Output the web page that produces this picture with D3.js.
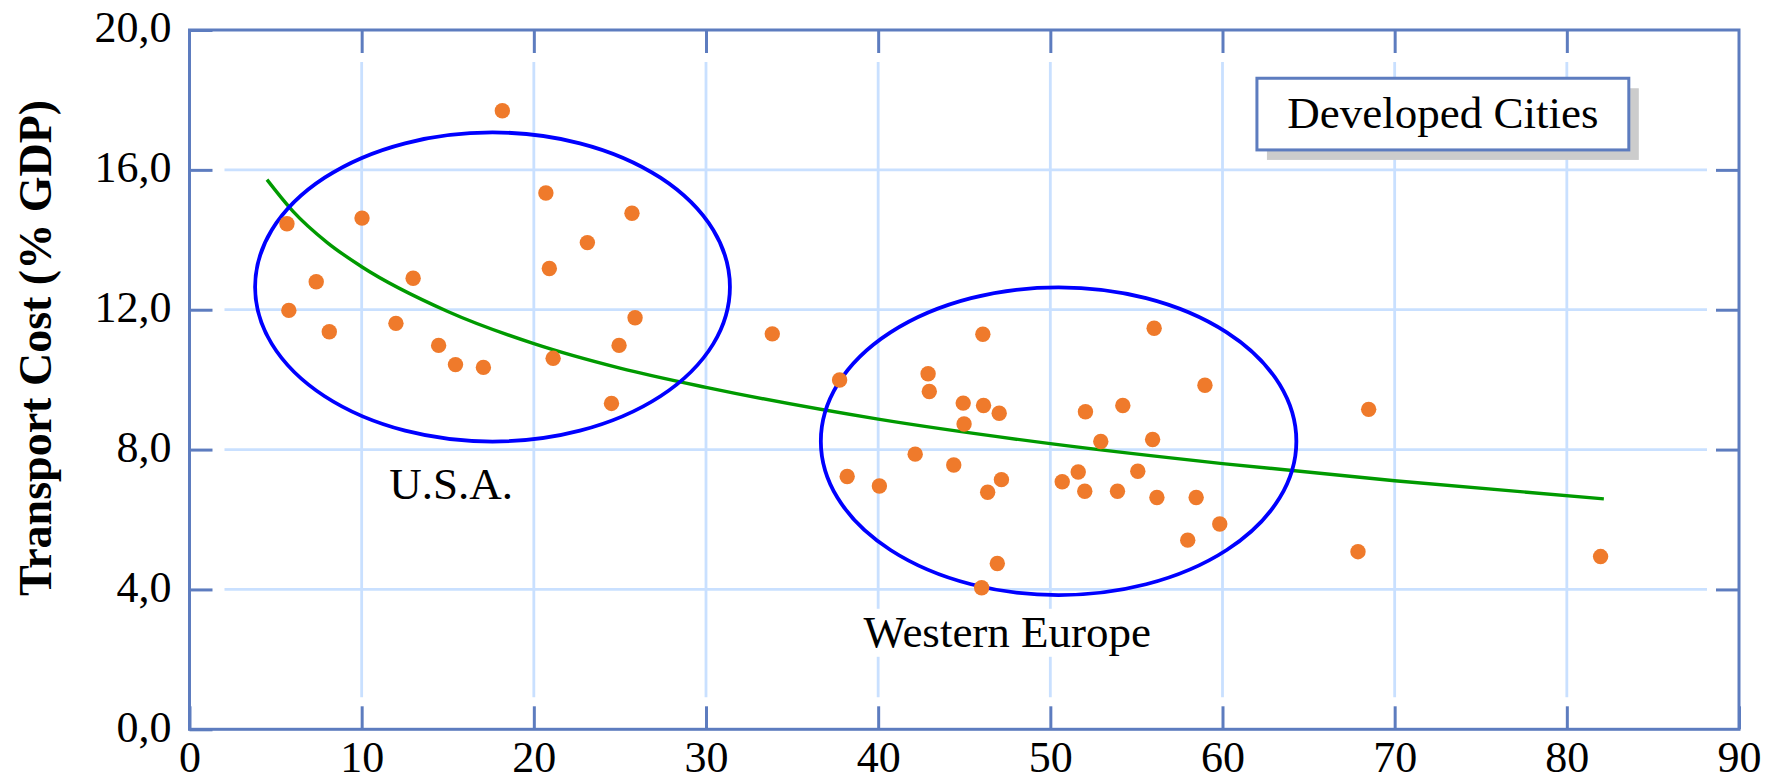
<!DOCTYPE html>
<html>
<head>
<meta charset="utf-8">
<script src="https://cdn.jsdelivr.net/npm/d3@7"></script>
<style>
    body { margin: 0; background: #fff; }
    text { font-family: "Liberation Serif", "Times New Roman", serif; fill: #000; }
</style>
</head>
<body>
<div id="chart"></div>
<script>
// city values (x: axis 0-90, y: transport cost % GDP)
const cityX = [18.17, 20.70, 25.70, 10.02, 5.66, 23.11, 20.90, 12.99, 7.36, 5.77,
    25.88, 8.12, 11.99, 33.85, 14.47, 24.95, 15.45, 17.07, 21.12, 24.51,
    37.76, 46.08, 56.03, 42.90, 42.97, 58.98, 44.94, 46.12, 47.03, 52.04,
    54.21, 44.99, 52.93, 55.94, 42.15, 44.39, 38.20, 40.07, 47.16, 46.36,
    50.69, 51.62, 52.00, 53.90, 55.08, 56.19, 58.47, 59.84, 57.98, 46.92,
    46.01, 68.49, 67.87, 81.96];
const cityY = [17.69, 15.34, 14.76, 14.62, 14.46, 13.92, 13.18, 12.90, 12.80, 11.98,
    11.77, 11.37, 11.61, 11.31, 10.98, 10.98, 10.43, 10.35, 10.61, 9.32,
    9.99, 11.30, 11.47, 10.17, 9.66, 9.84, 9.33, 9.26, 9.04, 9.08,
    9.26, 8.73, 8.23, 8.29, 7.87, 7.56, 7.23, 6.96, 7.14, 6.78,
    7.08, 7.36, 6.81, 6.81, 7.38, 6.63, 6.63, 5.87, 5.41, 4.74,
    4.05, 9.15, 5.08, 4.94];

// trend curve, read at a few x positions
const trendX = [4.5, 6, 8, 10, 15, 20, 25, 30, 40, 50, 60, 70, 82.15];
const trendY = [15.72, 14.82, 13.92, 13.23, 11.95, 11.03, 10.33, 9.78, 8.87, 8.17, 7.6, 7.11, 6.59];

// the two circled groups
const groupNames = ['U.S.A.', 'Western Europe'];
const groupCx = [17.6, 50.48];
const groupCy = [12.65, 8.24];
const groupRx = [13.79, 13.81];
const groupRy = [4.42, 4.40];
const groupLabelX = [15.2, 47.5];
const groupLabelY = [6.58, 2.36];

const xTicks = [0, 10, 20, 30, 40, 50, 60, 70, 80, 90];
const yTicks = [0, 4, 8, 12, 16, 20];

const yTitle = 'Transport Cost (% GDP)';
const boxTitle = 'Developed Cities';
const boxX = [62, 83.6];
const boxY = [18.62, 16.57];

const width = 1769;
const height = 784;
const margin = { top: 30, right: 30, bottom: 54.7, left: 189.5 };

const frameColor = '#5d7cbf';
const gridColor = '#c9e0ff';
const dotColor = '#ef7a2b';
const tickLen = 23;
const gap = 9;

const x = d3.scaleLinear().domain([0, 90]).range([margin.left, width - margin.right]);
const y = d3.scaleLinear().domain([0, 20]).range([height - margin.bottom, margin.top]);

const commaFormat = d3.formatLocale({ decimal: ',', thousands: '.', grouping: [3], currency: ['', ''] }).format('.1f');

const svg = d3.select('#chart')
    .append('svg')
    .attr('width', width)
    .attr('height', height);

// grid
const grid = svg.append('g');
grid.selectAll('.vgrid')
    .data(xTicks.slice(1, -1))
    .enter()
    .append('line')
    .attr('x1', d => x(d))
    .attr('x2', d => x(d))
    .attr('y1', y(20) + tickLen + gap)
    .attr('y2', y(0) - tickLen - gap)
    .attr('stroke', gridColor)
    .attr('stroke-width', 2.8);
grid.selectAll('.hgrid')
    .data(yTicks.slice(1, -1))
    .enter()
    .append('line')
    .attr('y1', d => y(d))
    .attr('y2', d => y(d))
    .attr('x1', x(0) + tickLen + gap + 3)
    .attr('x2', x(90) - tickLen - gap)
    .attr('stroke', gridColor)
    .attr('stroke-width', 2.8);

// axes on all four sides, ticks pointing in
function styleAxis(g) {
    g.select('.domain').remove();
    g.selectAll('.tick line').attr('stroke', frameColor).attr('stroke-width', 3);
    g.selectAll('.tick text')
        .style('font-family', '"Liberation Serif", "Times New Roman", serif')
        .style('font-size', '44px')
        .attr('fill', '#000');
}

svg.append('g')
    .attr('transform', `translate(0, ${y(0)})`)
    .call(d3.axisBottom(x).tickValues(xTicks).tickSize(-tickLen).tickPadding(11).tickFormat(d3.format('d')))
    .call(styleAxis);
svg.append('g')
    .attr('transform', `translate(0, ${y(20)})`)
    .call(d3.axisTop(x).tickValues(xTicks.slice(1, -1)).tickSize(-tickLen).tickFormat(''))
    .call(styleAxis);
svg.append('g')
    .attr('transform', `translate(${x(0)}, 0)`)
    .call(d3.axisLeft(y).tickValues(yTicks).tickSize(-tickLen).tickPadding(18).tickFormat(commaFormat))
    .call(styleAxis)
    .selectAll('.tick text').attr('dy', '0.27em');
svg.append('g')
    .attr('transform', `translate(${x(90)}, 0)`)
    .call(d3.axisRight(y).tickValues(yTicks.slice(1, -1)).tickSize(-tickLen).tickFormat(''))
    .call(styleAxis);

svg.append('rect')
    .attr('x', x(0))
    .attr('y', y(20))
    .attr('width', x(90) - x(0))
    .attr('height', y(0) - y(20))
    .attr('fill', 'none')
    .attr('stroke', frameColor)
    .attr('stroke-width', 3);

// y axis title
svg.append('text')
    .attr('transform', `translate(51, 348) rotate(-90)`)
    .attr('text-anchor', 'middle')
    .style('font-size', '46px')
    .style('font-weight', 'bold')
    .text(yTitle);

// box label with shadow
svg.append('rect')
    .attr('x', x(boxX[0]) + 10)
    .attr('y', y(boxY[0]) + 10)
    .attr('width', x(boxX[1]) - x(boxX[0]))
    .attr('height', y(boxY[1]) - y(boxY[0]))
    .attr('fill', '#cccccc');
svg.append('rect')
    .attr('x', x(boxX[0]))
    .attr('y', y(boxY[0]))
    .attr('width', x(boxX[1]) - x(boxX[0]))
    .attr('height', y(boxY[1]) - y(boxY[0]))
    .attr('fill', '#fff')
    .attr('stroke', frameColor)
    .attr('stroke-width', 3);
svg.append('text')
    .attr('x', x((boxX[0] + boxX[1]) / 2))
    .attr('y', y((boxY[0] + boxY[1]) / 2))
    .attr('dy', '0.32em')
    .attr('text-anchor', 'middle')
    .style('font-size', '45px')
    .text(boxTitle);

// group labels, on white so the grid breaks behind them
groupNames.forEach((name, i) => {
    const label = svg.append('text')
        .attr('x', x(groupLabelX[i]))
        .attr('y', y(groupLabelY[i]))
        .attr('text-anchor', 'middle')
        .style('font-size', '45px')
        .text(name);
    const bb = label.node().getBBox();
    svg.insert('rect', () => label.node())
        .attr('x', bb.x - 2)
        .attr('y', bb.y + 2)
        .attr('width', bb.width + 4)
        .attr('height', bb.height - 2)
        .attr('fill', '#fff');
});

// trend line
const trend = trendX.map((d, i) => [d, trendY[i]]);
svg.append('path')
    .datum(trend)
    .attr('d', d3.line().x(d => x(d[0])).y(d => y(d[1])).curve(d3.curveMonotoneX))
    .attr('fill', 'none')
    .attr('stroke', '#009a00')
    .attr('stroke-width', 3.4);

// group ellipses
svg.selectAll('.group')
    .data(groupNames)
    .enter()
    .append('ellipse')
    .attr('cx', (d, i) => x(groupCx[i]))
    .attr('cy', (d, i) => y(groupCy[i]))
    .attr('rx', (d, i) => x(groupCx[i] + groupRx[i]) - x(groupCx[i]))
    .attr('ry', (d, i) => y(groupCy[i] - groupRy[i]) - y(groupCy[i]))
    .attr('fill', 'none')
    .attr('stroke', '#0000ff')
    .attr('stroke-width', 3.8);

// cities
svg.selectAll('.city')
    .data(cityX)
    .enter()
    .append('circle')
    .attr('cx', d => x(d))
    .attr('cy', (d, i) => y(cityY[i]))
    .attr('r', 7.7)
    .attr('fill', dotColor);
</script>
</body>
</html>
